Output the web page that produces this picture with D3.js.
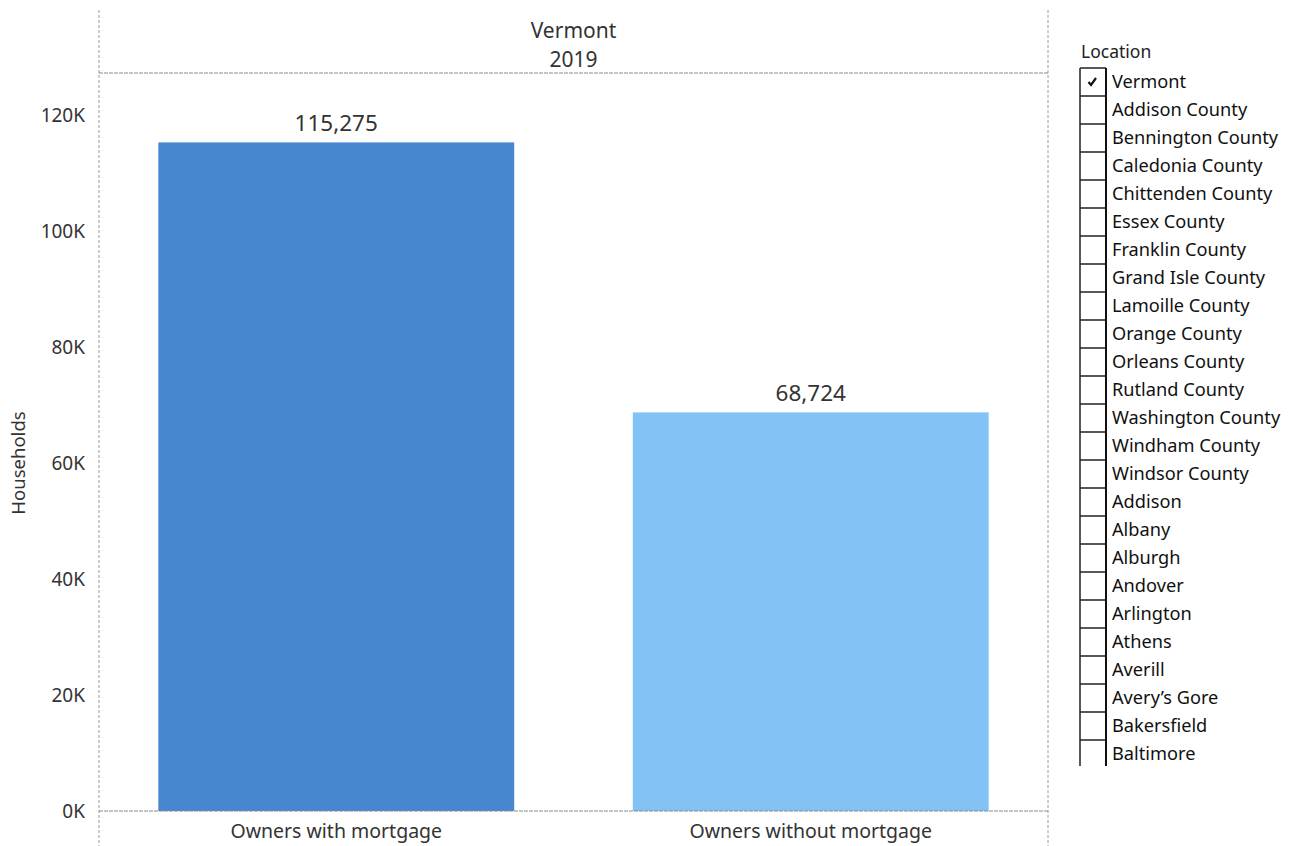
<!DOCTYPE html>
<html>
<head>
<meta charset="utf-8">
<script src="https://cdn.jsdelivr.net/npm/d3@7/dist/d3.min.js"></script>
<style>
  html, body { margin: 0; padding: 0; background: #fff; }
  svg { display: block; font-family: "Noto Sans", "Open Sans", sans-serif; }
</style>
</head>
<body>
<svg id="chart" width="1289" height="846"></svg>
<script>
// Owner-occupied households by mortgage status
const categories = ["Owners with mortgage", "Owners without mortgage"];
const households = [115275, 68724];
const barColors = ["#4787d0", "#82c2f5"];
const yTicks = [0, 20000, 40000, 60000, 80000, 100000, 120000];
const headerLines = ["Vermont", "2019"];
const legendTitle = "Location";
const locations = [
  "Vermont", "Addison County", "Bennington County", "Caledonia County",
  "Chittenden County", "Essex County", "Franklin County", "Grand Isle County",
  "Lamoille County", "Orange County", "Orleans County", "Rutland County",
  "Washington County", "Windham County", "Windsor County", "Addison", "Albany",
  "Alburgh", "Andover", "Arlington", "Athens", "Averill", "Avery\u2019s Gore",
  "Bakersfield", "Baltimore"
];
const checked = ["Vermont"];

const svg = d3.select("#chart");
const paneLeft = 99, paneRight = 1048, headerY = 73, baseY = 811;

const x = d3.scaleBand()
  .domain(categories)
  .range([paneLeft, paneRight])
  .paddingInner(0.25)
  .paddingOuter(0.125);

const y = d3.scaleLinear()
  .domain([0, 120000])
  .range([baseY, 115]);

const dash = "3,2";
const frameColor = "#9a9a9a";

// pane frame
svg.append("line").attr("x1", paneLeft).attr("x2", paneLeft).attr("y1", 10).attr("y2", 846)
  .attr("stroke", frameColor).attr("stroke-dasharray", dash);
svg.append("line").attr("x1", paneRight).attr("x2", paneRight).attr("y1", 10).attr("y2", 846)
  .attr("stroke", frameColor).attr("stroke-dasharray", dash);
svg.append("line").attr("x1", paneLeft).attr("x2", paneRight).attr("y1", headerY).attr("y2", headerY)
  .attr("stroke", "#8a8a8a").attr("stroke-dasharray", "4,1");

// header
const headerCx = (paneLeft + paneRight) / 2;
svg.append("g").selectAll("text").data(headerLines).join("text")
  .attr("x", headerCx).attr("y", (d, i) => 38 + i * 29)
  .attr("text-anchor", "middle").attr("font-size", 21).attr("fill", "#333")
  .text(d => d);

// y axis
const yAxis = d3.axisLeft(y).tickValues(yTicks)
  .tickFormat(d => d3.format("d")(d / 1000) + "K")
  .tickSize(0).tickPadding(14);
svg.append("g").attr("transform", `translate(${paneLeft},0)`).call(yAxis)
  .call(g => g.select(".domain").remove())
  .call(g => g.selectAll("text").attr("font-size", 19).attr("fill", "#333")
    .attr("font-family", "'Noto Sans', sans-serif"));

svg.append("text")
  .attr("transform", `translate(25,${(y(0) + y(120000)) / 2}) rotate(-90)`)
  .attr("text-anchor", "middle").attr("font-size", 18.5).attr("fill", "#333")
  .text("Households");

// bars
svg.append("g").selectAll("rect").data(households).join("rect")
  .attr("x", (d, i) => x(categories[i]))
  .attr("width", x.bandwidth())
  .attr("y", d => y(d))
  .attr("height", d => y(0) - y(d))
  .attr("fill", (d, i) => barColors[i]);

// value labels
svg.append("g").selectAll("text").data(households).join("text")
  .attr("x", (d, i) => x(categories[i]) + x.bandwidth() / 2)
  .attr("y", d => y(d) - 11)
  .attr("text-anchor", "middle").attr("font-size", 22.5).attr("fill", "#333")
  .text(d => d3.format(",")(d));

// baseline
svg.append("line").attr("x1", paneLeft).attr("x2", paneRight).attr("y1", baseY).attr("y2", baseY)
  .attr("stroke", "#8a8a8a").attr("stroke-dasharray", "4,1");

// category labels
const xAxis = d3.axisBottom(x).tickSize(0).tickPadding(13);
svg.append("g").attr("transform", `translate(0,${baseY})`).call(xAxis)
  .call(g => g.select(".domain").remove())
  .call(g => g.selectAll("text").attr("font-size", 19.5).attr("fill", "#333")
    .attr("font-family", "'Noto Sans', sans-serif"));

// location filter list
const lg = svg.append("g");
lg.append("text").attr("x", 1081).attr("y", 58).attr("font-size", 17.5).attr("fill", "#222")
  .text(legendTitle);
const rowH = 28, top0 = 68, boxL = 1080, boxR = 1106;
const rows = lg.append("g").selectAll("g").data(locations).join("g")
  .attr("transform", (d, i) => `translate(0,${top0 + i * rowH})`);
rows.append("line").attr("x1", boxL).attr("x2", boxR).attr("y1", 0).attr("y2", 0)
  .attr("stroke", "#222").attr("stroke-width", 1.5);
rows.append("text").attr("x", 1112).attr("y", 19.5).attr("font-size", 18.2).attr("fill", "#111")
  .text(d => d);
rows.filter(d => checked.includes(d)).append("path")
  .attr("d", "M1088.5,14 L1091,17 L1096,10")
  .attr("fill", "none").attr("stroke", "#111").attr("stroke-width", 2.2);
const listBottom = top0 + (locations.length - 1) * rowH + 26;
lg.append("line").attr("x1", boxL).attr("x2", boxL).attr("y1", top0).attr("y2", listBottom)
  .attr("stroke", "#222").attr("stroke-width", 1.5);
lg.append("line").attr("x1", boxR).attr("x2", boxR).attr("y1", top0).attr("y2", listBottom)
  .attr("stroke", "#111").attr("stroke-width", 2);
</script>
</body>
</html>
